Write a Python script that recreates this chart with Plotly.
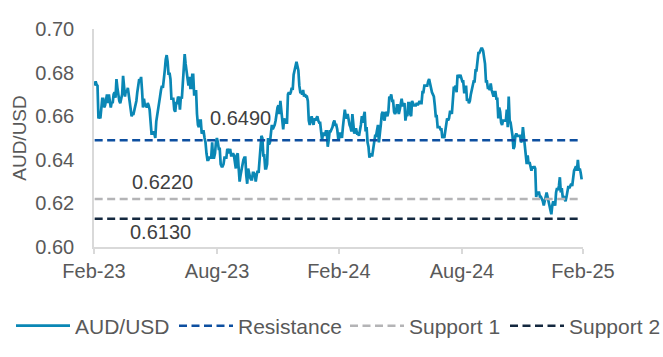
import pandas as pd
import plotly.graph_objects as go

# AUD/USD daily closes (Mar 2023 - Feb 2025)
aud_2023 = [
    # Mar
    0.6740, 0.6760, 0.6745, 0.6740, 0.6590, 0.6600, 0.6590, 0.6625, 0.6680, 0.6680, 0.6640, 0.6650,
    0.6690, 0.6700, 0.6660, 0.6700, 0.6670, 0.6640, 0.6665, 0.6660, 0.6700, 0.6710, 0.6685,
    # Apr
    0.6770, 0.6730, 0.6690, 0.6670, 0.6660, 0.6680, 0.6700, 0.6785, 0.6710, 0.6690, 0.6720, 0.6710,
    0.6730, 0.6690, 0.6680, 0.6620, 0.6600, 0.6610, 0.6610,
    # May
    0.6630, 0.6650, 0.6670, 0.6710, 0.6750, 0.6770, 0.6760, 0.6780, 0.6720, 0.6640, 0.6680, 0.6650,
    0.6650, 0.6640, 0.6660, 0.6650, 0.6630, 0.6550, 0.6520, 0.6520, 0.6530, 0.6520, 0.6500,
    # Jun
    0.6575, 0.6610, 0.6620, 0.6670, 0.6690, 0.6720, 0.6740, 0.6730, 0.6760, 0.6810, 0.6860, 0.6880,
    0.6850, 0.6790, 0.6800, 0.6770, 0.6680, 0.6680, 0.6680, 0.6630, 0.6620, 0.6660,
    # Jul
    0.6660, 0.6690, 0.6680, 0.6630, 0.6690, 0.6680, 0.6740, 0.6820, 0.6885, 0.6840, 0.6800, 0.6790,
    0.6740, 0.6780, 0.6730, 0.6730, 0.6790, 0.6790, 0.6700, 0.6700, 0.6720,
    # Aug
    0.6610, 0.6560, 0.6550, 0.6580, 0.6580, 0.6520, 0.6530, 0.6530, 0.6500, 0.6480, 0.6430, 0.6400,
    0.6400, 0.6410, 0.6410, 0.6410, 0.6480, 0.6410, 0.6410, 0.6430, 0.6480, 0.6500, 0.6480,
    # Sep
    0.6450, 0.6450, 0.6380, 0.6370, 0.6370, 0.6380, 0.6410, 0.6410, 0.6410, 0.6450, 0.6440, 0.6430,
    0.6450, 0.6420, 0.6420, 0.6430, 0.6420, 0.6380, 0.6360, 0.6420, 0.6430,
    # Oct
    0.6360, 0.6300, 0.6330, 0.6360, 0.6390, 0.6400, 0.6410, 0.6410, 0.6330, 0.6290, 0.6360, 0.6330,
    0.6320, 0.6310, 0.6310, 0.6340, 0.6340, 0.6330, 0.6300, 0.6330, 0.6350, 0.6340,
    # Nov
    0.6390, 0.6450, 0.6510, 0.6500, 0.6420, 0.6420, 0.6360, 0.6360, 0.6380, 0.6500, 0.6470, 0.6480,
    0.6520, 0.6560, 0.6540, 0.6550, 0.6560, 0.6580, 0.6620, 0.6640, 0.6650, 0.6610,
    # Dec
    0.6670, 0.6630, 0.6570, 0.6540, 0.6590, 0.6570, 0.6570, 0.6570, 0.6700, 0.6710, 0.6700, 0.6710,
    0.6730, 0.6720, 0.6790, 0.6810, 0.6820, 0.6850, 0.6830, 0.6810,
]

aud_2024 = [
    # Jan
    0.6740, 0.6710, 0.6710, 0.6700, 0.6720, 0.6690, 0.6700, 0.6690, 0.6690, 0.6670, 0.6580, 0.6560,
    0.6580, 0.6600, 0.6580, 0.6560, 0.6590, 0.6580, 0.6590, 0.6600, 0.6580, 0.6570,
    # Feb
    0.6570, 0.6520, 0.6490, 0.6520, 0.6520, 0.6510, 0.6530, 0.6530, 0.6460, 0.6490, 0.6530, 0.6530,
    0.6540, 0.6550, 0.6570, 0.6580, 0.6560, 0.6560, 0.6540, 0.6500, 0.6500,
    # Mar
    0.6520, 0.6520, 0.6500, 0.6550, 0.6610, 0.6630, 0.6600, 0.6590, 0.6610, 0.6570, 0.6560, 0.6550,
    0.6530, 0.6610, 0.6560, 0.6520, 0.6540, 0.6540, 0.6520, 0.6520,
    # Apr
    0.6510, 0.6530, 0.6560, 0.6600, 0.6570, 0.6600, 0.6620, 0.6530, 0.6550, 0.6480, 0.6460, 0.6410,
    0.6430, 0.6420, 0.6420, 0.6450, 0.6490, 0.6510, 0.6510, 0.6530, 0.6560, 0.6480,
    # May
    0.6540, 0.6560, 0.6610, 0.6620, 0.6590, 0.6580, 0.6620, 0.6610, 0.6600, 0.6620, 0.6690, 0.6680,
    0.6700, 0.6670, 0.6670, 0.6620, 0.6610, 0.6620, 0.6650, 0.6650, 0.6610, 0.6630, 0.6650,
    # Jun
    0.6680, 0.6650, 0.6650, 0.6660, 0.6580, 0.6610, 0.6600, 0.6660, 0.6660, 0.6610, 0.6600, 0.6670,
    0.6660, 0.6650, 0.6650, 0.6650, 0.6660, 0.6650, 0.6660, 0.6670,
    # Jul
    0.6660, 0.6660, 0.6710, 0.6710, 0.6740, 0.6740, 0.6740, 0.6740, 0.6760, 0.6770, 0.6750, 0.6720,
    0.6710, 0.6700, 0.6690, 0.6650, 0.6600, 0.6600, 0.6550, 0.6550, 0.6550, 0.6540, 0.6540,
    # Aug
    0.6500, 0.6510, 0.6500, 0.6530, 0.6550, 0.6590, 0.6580, 0.6590, 0.6620, 0.6620, 0.6610, 0.6670,
    0.6730, 0.6730, 0.6740, 0.6710, 0.6790, 0.6780, 0.6780, 0.6790, 0.6770, 0.6760,
    # Sep
    0.6760, 0.6710, 0.6710, 0.6740, 0.6670, 0.6680, 0.6660, 0.6670, 0.6700, 0.6720, 0.6750, 0.6760,
    0.6760, 0.6810, 0.6810, 0.6850, 0.6890, 0.6890, 0.6900, 0.6910, 0.6910,
    # Oct
    0.6900, 0.6870, 0.6840, 0.6760, 0.6760, 0.6730, 0.6730, 0.6720, 0.6750, 0.6720, 0.6700, 0.6690,
    0.6710, 0.6710, 0.6680, 0.6680, 0.6590, 0.6640, 0.6620, 0.6570, 0.6560, 0.6580, 0.6580,
    # Nov
    0.6580, 0.6580, 0.6630, 0.6550, 0.6690, 0.6580, 0.6570, 0.6540, 0.6510, 0.6450, 0.6460, 0.6510,
    0.6520, 0.6510, 0.6510, 0.6510, 0.6510, 0.6480, 0.6490, 0.6550, 0.6510,
    # Dec
    0.6480, 0.6420, 0.6380, 0.6420, 0.6380, 0.6390, 0.6370, 0.6350, 0.6370, 0.6360, 0.6370, 0.6360,
    0.6230, 0.6250, 0.6250, 0.6250, 0.6230, 0.6230, 0.6220, 0.6210, 0.6190,
]

aud_2025 = [
    # Jan
    0.6210, 0.6220, 0.6250, 0.6230, 0.6200, 0.6190, 0.6170, 0.6150, 0.6190, 0.6210, 0.6200, 0.6190,
    0.6250, 0.6270, 0.6260, 0.6280, 0.6320, 0.6250, 0.6270, 0.6230, 0.6230, 0.6220,
    # Feb
    0.6210, 0.6230, 0.6270, 0.6280, 0.6270, 0.6280, 0.6290, 0.6280, 0.6320, 0.6350, 0.6360, 0.6370,
    0.6350, 0.6400, 0.6350, 0.6360, 0.6340, 0.6310,
]

start_date = "2023-03-01"
end_date = "2025-02-26"

levels_names = ["Resistance", "Support 1", "Support 2"]
levels_values = [0.6490, 0.6220, 0.6130]
levels_labels = ["0.6490", "0.6220", "0.6130"]

tick_dates = ["2023-02-28", "2023-08-31", "2024-02-29", "2024-08-31", "2025-02-28"]
tick_labels = ["Feb-23", "Aug-23", "Feb-24", "Aug-24", "Feb-25"]

aud = aud_2023 + aud_2024 + aud_2025
dates = pd.date_range(start_date, end_date, periods=len(aud))

FONT = "Liberation Sans, Arial, sans-serif"
W, H = 663, 357
level_colors = ["#0D4FA0", "#B4B4B6", "#14283F"]
label_x = [0.299, 0.141, 0.135]
label_shift = [22, 17, -13]
legend_ids = ["legend", "legend2", "legend3", "legend4"]
legend_px = [11, 174, 345, 505]

fig = go.Figure()
fig.add_trace(go.Scatter(x=dates, y=aud, mode="lines", name="AUD/USD", legend=legend_ids[0],
                         line=dict(color="#0A87B5", width=2.7)))
for name, val, col, lg in zip(levels_names, levels_values, level_colors, legend_ids[1:]):
    fig.add_trace(go.Scatter(x=[dates[0], dates[-1]], y=[val, val], mode="lines", name=name,
                             legend=lg, line=dict(color=col, width=2.5, dash="8px,4.5px")))

for lab, val, lx, sh in zip(levels_labels, levels_values, label_x, label_shift):
    fig.add_annotation(x=lx, xref="paper", xanchor="center", y=val, yref="y", yshift=sh,
                       yanchor="middle", text=lab, showarrow=False,
                       font=dict(family=FONT, size=20, color="#404040"))

legend_style = dict(orientation="h", xref="container", yref="container", xanchor="left",
                    y=1 - 326 / H, yanchor="middle",
                    font=dict(family=FONT, size=21, color="#595959"),
                    itemwidth=54, bgcolor="rgba(0,0,0,0)", borderwidth=0)
legends = {lg: dict(legend_style, x=px / W) for lg, px in zip(legend_ids, legend_px)}

fig.update_layout(
    width=W, height=H,
    margin=dict(l=94, r=80, t=29, b=110, autoexpand=False),
    paper_bgcolor="white", plot_bgcolor="white",
    font=dict(family=FONT, size=20, color="#595959"),
    showlegend=True,
    **legends,
)
fig.update_xaxes(type="date", range=[tick_dates[0], tick_dates[-1]],
                 tickvals=tick_dates, ticktext=tick_labels,
                 showline=True, linecolor="#D9D9D9", linewidth=1.5,
                 ticks="outside", ticklen=5, tickcolor="#D9D9D9", tickwidth=1.5,
                 showgrid=False, zeroline=False,
                 tickfont=dict(family=FONT, size=20, color="#595959"))
fig.update_yaxes(range=[0.60, 0.70], dtick=0.02, tick0=0.60, tickformat=".2f",
                 showline=True, linecolor="#D9D9D9", linewidth=1.5,
                 showgrid=False, zeroline=False, ticks="", ticklabelstandoff=14,
                 tickfont=dict(family=FONT, size=20, color="#595959"),
                 title=dict(text="AUD/USD", font=dict(family=FONT, size=19, color="#595959"),
                            standoff=4))

fig.write_html("out.html", config={"displayModeBar": False},
               post_script="document.body.style.margin='0px';")
